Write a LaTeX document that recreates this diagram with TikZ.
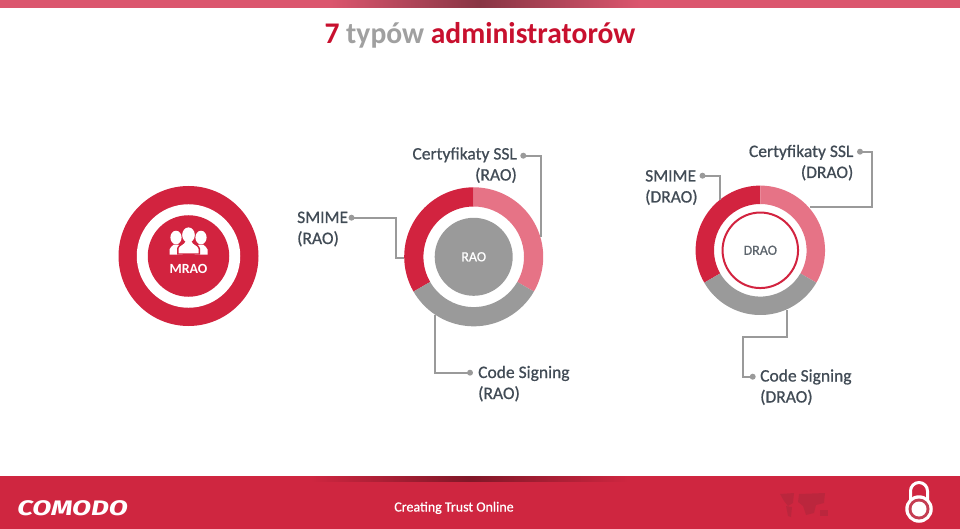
\documentclass[tikz,border=0pt]{standalone}
\usepackage{fontspec}
\setmainfont{Carlito}
\newfontfamily\logofont{Fira Sans}
\newfontfamily\labfont[FakeBold=0.7]{Carlito}
\usetikzlibrary{calc}
\definecolor{crim}{HTML}{D2233F}
\definecolor{crimdark}{HTML}{C8102E}
\definecolor{rose}{HTML}{E67386}
\definecolor{gr}{HTML}{9A9A9A}
\definecolor{ink}{HTML}{414B55}
\definecolor{titlegr}{HTML}{A0A0A0}
\definecolor{barred}{HTML}{CF2640}
\definecolor{topred}{HTML}{DB566E}
\newcommand{\annseg}[5]{\fill[#5] (#3:#1) arc[start angle=#3,end angle=#4,radius=#1] -- (#4:#2) arc[start angle=#4,end angle=#3,radius=#2] -- cycle;}
\tikzset{
 lab/.style={font=\fontsize{17.5}{21}\selectfont\labfont,text=ink,inner sep=0pt,anchor=base west,align=left},
 labr/.style={lab,anchor=base east,align=right},
 conn/.style={draw=gr,line width=1.8pt,line join=miter},
 dotnode/.style={circle,fill=gr,inner sep=0pt,minimum size=6pt},
 disc/.style={circle,inner sep=0pt,text=white,font=\fontsize{14}{16}\selectfont\labfont},
}
\begin{document}
\begin{tikzpicture}[x=1pt,y=1pt]
\useasboundingbox (0,0) rectangle (960,-529);
\fill[white] (0,0) rectangle (960,-529);
% bars
\fill[topred] (0,0) rectangle (960,-8);
\shade[left color=topred,right color=topred!62!black] (330,0) rectangle (480,-8);
\shade[left color=topred!62!black,right color=topred] (480,0) rectangle (640,-8);
\fill[barred] (0,-476) rectangle (960,-529);
\shade[left color=barred,right color=barred!62!black] (310,-476) rectangle (470,-481);
\shade[left color=barred!62!black,right color=barred] (470,-476) rectangle (630,-481);
% title
\node[inner sep=0pt,anchor=base,xscale=.985] (title) at (480,-44) {\fontsize{30}{36}\selectfont\bfseries\textcolor{crimdark}{7} \textcolor{titlegr}{typów} \textcolor{crimdark}{administratorów}};
% MRAO
\node[circle,fill=crim,inner sep=0pt,minimum size=140pt] (mraoouter) at (188.5,-256) {};
\node[circle,fill=white,inner sep=0pt,minimum size=103.5pt] (mraogap) at (188.5,-256) {};
\node[disc,fill=crim,minimum size=81.5pt] (mrao) at (188.5,-256) {};
\node[inner sep=0pt,text=white,font=\fontsize{14}{16}\selectfont\bfseries,anchor=base] (mraot) at (188.5,-273) {MRAO};
% people icon
\begin{scope}[shift={(188.5,-254.5)}]
 \foreach \d in {-12.5,12.5}{
  \begin{scope}[xshift=\d pt]
   \fill[white] (0,17) ellipse (5.6 and 6.8);
   \fill[white] (-6.5,0) -- (-6.5,5) .. controls (-6.5,8) and (-3,8) .. (-2,10) -- (2,10) .. controls (3,8) and (6.5,8) .. (6.5,5) -- (6.5,0) -- cycle;
  \end{scope}}
 \fill[crim] (-11.5,0) -- (-11.5,6) .. controls (-11,10) and (-5,11) .. (-5,14) -- (-8,25) -- (8,25) -- (5,14) .. controls (5,11) and (11,10) .. (11.5,6) -- (11.5,0) -- cycle;
 \fill[white] (0,19.5) ellipse (6.3 and 7.6);
 \fill[white] (-10,1.2) -- (-10,5.5) .. controls (-9.5,9) and (-4,9.5) .. (-3,13) -- (3,13) .. controls (4,9.5) and (9.5,9) .. (10,5.5) -- (10,1.2) -- cycle;
\end{scope}
% RAO donut
\begin{scope}[shift={(473.7,-256.8)}]
 \annseg{69.5}{50.3}{90}{210}{crim}
 \annseg{69.5}{50.3}{-30}{90}{rose}
 \annseg{69.5}{50.3}{210}{330}{gr}
\end{scope}
\node[disc,fill=gr,minimum size=78pt] (rao) at (473.7,-256.8) {RAO};
% DRAO donut
\begin{scope}[shift={(760.3,-250.3)}]
 \annseg{64.7}{46.3}{90}{210}{crim}
 \annseg{64.7}{46.3}{-30}{90}{rose}
 \annseg{64.7}{46.3}{210}{330}{gr}
\end{scope}
\node[circle,draw=crim,line width=2pt,fill=white,inner sep=0pt,minimum size=75.5pt,text=ink!85,font=\fontsize{14}{16}\selectfont\labfont] (drao) at (760.3,-250.3) {DRAO};
% connector ends on rings
\coordinate (a1) at (404.3,-258.3);
\coordinate (a2) at (540.7,-236.7);
\coordinate (a3) at (435,-315);
\coordinate (b1) at (720,-200);
\coordinate (b2) at (810,-207.3);
\coordinate (b3) at (786.7,-310);
% dots
\node[dotnode] (da1) at (351.5,-217.7) {};
\node[dotnode] (da2) at (523.3,-155.7) {};
\node[dotnode] (da3) at (470,-372.7) {};
\node[dotnode] (db1) at (702.5,-175.7) {};
\node[dotnode] (db2) at (860,-151.7) {};
\node[dotnode] (db3) at (752.7,-376.7) {};
% connectors
\draw[conn] (da1.center) -- (395.7,-217.7) -- (395.7,-258.3) -- (a1);
\draw[conn] (da2.center) -- (540.7,-155.7) -- (a2);
\draw[conn] (a3) -- (435,-372.7) -- (da3.center);
\draw[conn] (db1.center) -- (720,-175.7) -- (b1);
\draw[conn] (db2.center) -- (872.3,-151.7) -- (872.3,-207.3) -- (b2);
\draw[conn] (b3) -- (786.7,-336.7) -- (742.7,-336.7) -- (742.7,-376.7) -- (db3.center);
% labels (the base of a two-line node is its last line)
\node[lab] (l1) at (297,-244) {SMIME\\(RAO)};
\node[labr] (l2) at (517,-180.5) {Certyfikaty SSL\\(RAO)};
\node[lab] (l3) at (478,-399) {Code Signing\\(RAO)};
\node[lab] (l4) at (645,-202.5) {SMIME\\(DRAO)};
\node[labr] (l5) at (853.5,-178) {Certyfikaty SSL\\(DRAO)};
\node[lab] (l6) at (760,-402.5) {Code Signing\\(DRAO)};
% footer
\node[inner sep=0pt,anchor=west,text=white,xscale=1.32] (logo) at (17,-508) {\logofont\fontsize{21}{24}\selectfont\bfseries\itshape COMODO};
\node[inner sep=0pt,anchor=base,text=white,font=\fontsize{14}{16}\selectfont\labfont] (slogan) at (454,-511.5) {Creating Trust Online};
% map
\begin{scope}[fill=barred!55!black!85!gr,opacity=.22]
 \fill (780,-494) -- (794,-493) -- (793,-503) -- (788,-506) -- (784,-501) -- cycle;
 \fill (786,-506) -- (792,-507) -- (791,-517) -- (788,-516) -- cycle;
 \fill (799,-494) -- (825,-493) -- (824,-503) -- (816,-505) -- (814,-513) -- (806,-515) -- (803,-506) -- (798,-502) -- cycle;
 \fill (820,-510) -- (828,-510) -- (828,-516) -- (820,-516) -- cycle;
\end{scope}
% lock
\draw[white,line width=3pt] (910.5,-500) -- (910.5,-491) arc[start angle=180,end angle=0,radius=8.5] -- (927.5,-500);
\node[circle,fill=white,inner sep=0pt,minimum size=27.5pt] (lockb) at (919,-509) {};
\node[circle,fill=barred!80!gr,inner sep=0pt,minimum size=21pt] (lockr) at (919,-509) {};
\node[circle,fill=white,inner sep=0pt,minimum size=15pt] (lockc) at (919,-509) {};
\end{tikzpicture}
\end{document}
